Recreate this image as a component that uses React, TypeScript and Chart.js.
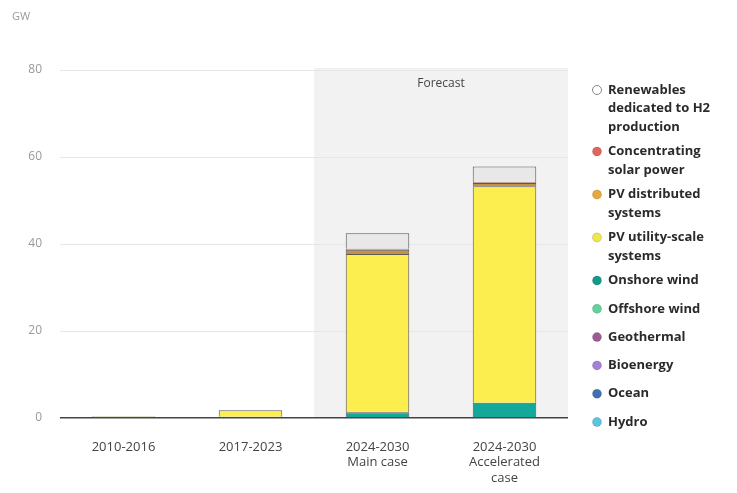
import React, { useEffect, useRef } from "react";
import { Chart, registerables } from "chart.js";

Chart.register(...registerables);

const categories: string[][] = [["2010-2016"], ["2017-2023"], ["2024-2030", "Main case"], ["2024-2030", "Accelerated", "case"]];
const yTicks = [0, 20, 40, 60, 80];

const hydro = [0, 0, 0, 0];
const ocean = [0, 0, 0, 0];
const bioenergy = [0, 0, 0, 0];
const geothermal = [0, 0, 0, 0];
const offshoreWind = [0, 0, 0, 0];
const onshoreWind = [0.3, 0.3, 1.3, 3.5];
const pvUtility = [0.1, 1.5, 36.4, 49.8];
const pvDistributed = [0, 0, 1.0, 0.7];
const csp = [0, 0, 0.2, 0.2];
const h2Dedicated = [0, 0, 3.6, 3.6];

const seriesNames = [
  ["Hydro"],
  ["Ocean"],
  ["Bioenergy"],
  ["Geothermal"],
  ["Offshore wind"],
  ["Onshore wind"],
  ["PV utility-scale", "systems"],
  ["PV distributed", "systems"],
  ["Concentrating", "solar power"],
  ["Renewables", "dedicated to H2", "production"],
];
const seriesValues = [hydro, ocean, bioenergy, geothermal, offshoreWind, onshoreWind, pvUtility, pvDistributed, csp, h2Dedicated];
const barColors = ["#5bc4e0", "#3f6fb5", "#a67fd6", "#9a5b96", "#5fd39a", "#14a89a", "#fcee4f", "#c8913a", "#e0655a", "#e8e8e8"];
const legendColors = ["#5bc4e0", "#3f6fb5", "#a67fd6", "#9a5b96", "#5fd39a", "#0f9a8a", "#f0e84a", "#e8a83a", "#e0655a", "#ffffff"];
const forecastLabel = "Forecast";
const unitLabel = "GW";

const FONT = "'Open Sans', sans-serif";

export default function App() {
  const ref = useRef<HTMLCanvasElement | null>(null);
  useEffect(() => {
    document.body.style.margin = "0";
    const canvas = ref.current!;
    const decor = {
      id: "decor",
      beforeDraw(chart: any) {
        const { ctx, chartArea, scales } = chart;
        const x = scales.x;
        const left = (x.getPixelForValue(1) + x.getPixelForValue(2)) / 2;
        ctx.save();
        ctx.fillStyle = "#f2f2f2";
        ctx.fillRect(left, chartArea.top - 2, chartArea.right - left, chartArea.bottom - chartArea.top + 2);
        ctx.fillStyle = "#444";
        ctx.font = `12px ${FONT}`;
        ctx.textAlign = "center";
        ctx.textBaseline = "middle";
        ctx.fillText(forecastLabel, (left + chartArea.right) / 2, chartArea.top + 14);
        ctx.fillStyle = "#999";
        ctx.font = `11px ${FONT}`;
        ctx.textAlign = "left";
        ctx.fillText(unitLabel, 12, 17);
        ctx.restore();
      },
      afterDraw(chart: any) {
        const { ctx } = chart;
        ctx.save();
        let y = 90;
        const lh = 18.5;
        for (let i = seriesNames.length - 1; i >= 0; i--) {
          const lines = seriesNames[i];
          ctx.beginPath();
          ctx.arc(597, y, 4.5, 0, Math.PI * 2);
          ctx.fillStyle = legendColors[i];
          ctx.fill();
          ctx.lineWidth = 1;
          ctx.strokeStyle = i === seriesNames.length - 1 ? "#888" : "rgba(0,0,0,0.15)";
          ctx.stroke();
          ctx.fillStyle = "#2a2a2a";
          ctx.font = `bold 13px ${FONT}`;
          ctx.textAlign = "left";
          ctx.textBaseline = "middle";
          lines.forEach((l, k) => ctx.fillText(l, 608, y + k * lh));
          y += (lines.length - 1) * lh + (lines.length > 1 ? 24.5 : 28.3);
        }
        ctx.restore();
      },
    };
    const chart = new Chart(canvas, {
      type: "bar",
      data: {
        labels: categories,
        datasets: seriesValues.map((v, i) => ({
          label: seriesNames[i].join(" "),
          data: v,
          backgroundColor: barColors[i],
          borderColor: "#5a5a5a",
          borderWidth: 1,
          categoryPercentage: 1,
          barPercentage: 0.5,
        })),
      },
      options: {
        responsive: false,
        animation: false,
        layout: { padding: { left: 0, right: 169, top: 70, bottom: 0 } },
        plugins: { legend: { display: false }, tooltip: { enabled: false } },
        scales: {
          x: {
            stacked: true,
            grid: { display: false },
            border: { display: false },
            ticks: { color: "#444", font: { family: FONT, size: 13 }, padding: 13, maxRotation: 0 },
            afterFit: (s: any) => { s.height = 75; },
          },
          y: {
            stacked: true,
            min: 0,
            max: 80,
            afterBuildTicks: (s: any) => { s.ticks = yTicks.map((v) => ({ value: v })); },
            grid: {
              color: (c: any) => (c.tick && c.tick.value === 0 ? "#444" : "#e6e6e6"),
              lineWidth: (c: any) => (c.tick && c.tick.value === 0 ? 1.5 : 1),
              drawTicks: false,
            },
            border: { display: false },
            ticks: { color: "#999", font: { family: FONT, size: 12 }, padding: 18 },
            afterFit: (s: any) => { s.width = 60; },
          },
        },
      },
      plugins: [decor],
    });
    return () => chart.destroy();
  }, []);
  return <canvas ref={ref} width={737} height={493} style={{ display: "block" }} />;
}
